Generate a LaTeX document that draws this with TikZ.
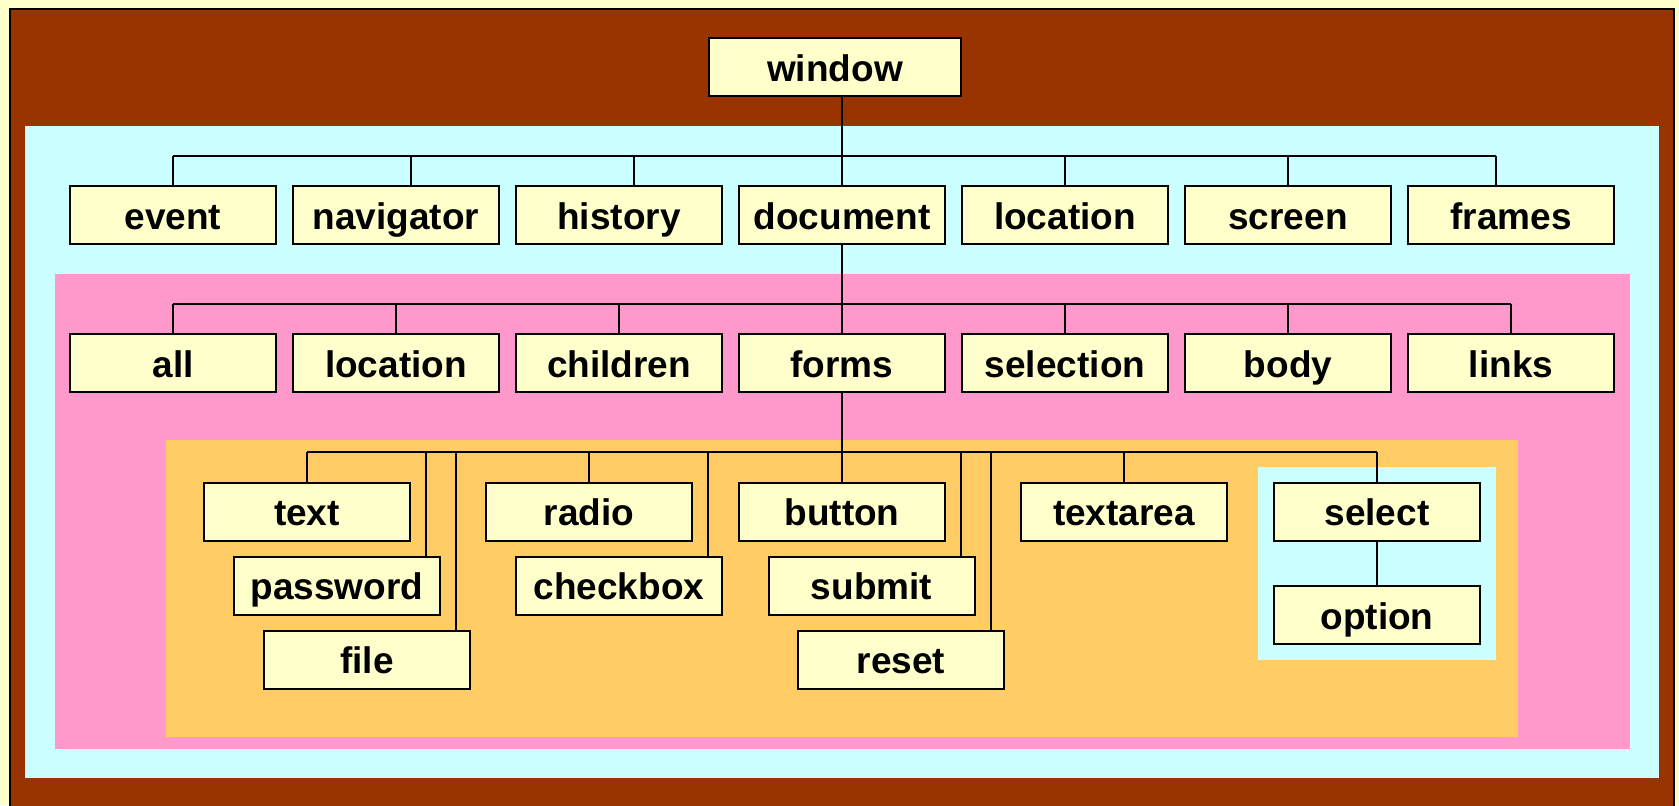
\documentclass[tikz,border=0pt]{standalone}
\usepackage{fontspec}
\setmainfont{Liberation Sans}
\usetikzlibrary{calc}
\definecolor{paper}{HTML}{FFFFCC}
\definecolor{boxfill}{HTML}{FFFFCC}
\definecolor{brownbg}{HTML}{993300}
\definecolor{cyanbg}{HTML}{CCFFFF}
\definecolor{pinkbg}{HTML}{FF99CC}
\definecolor{orangebg}{HTML}{FFCC66}
\begin{document}
\begin{tikzpicture}[x=0.5pt,y=-0.5pt,
  obj/.style={draw=black, line width=1pt, fill=boxfill, minimum width=103pt,
    minimum height=29pt, inner sep=0pt, text height=14pt, text depth=0pt,
    font=\fontsize{18.5}{22}\selectfont\bfseries},
  link/.style={draw=black, line width=1pt}]
\useasboundingbox (0,0) rectangle (1679,805);
\fill[paper] (0,0) rectangle (1679,805);

% nested coloured panels
\begin{scope}
  \clip (0,0) rectangle (1679,805);
  \filldraw[fill=brownbg, draw=black, line width=1pt] (10,9) rectangle (1674,840);
\end{scope}
\fill[cyanbg] (25,126) rectangle (1659,778);
\fill[pinkbg] (55,274) rectangle (1630,749);
\fill[orangebg] (166,440) rectangle (1518,737);
\fill[cyanbg] (1258,467) rectangle (1496,660);

% objects
\node[obj, minimum width=126pt] (window) at (835,67) {window};

\node[obj] (event)     at (173,215)  {event};
\node[obj] (navigator) at (396,215)  {navigator};
\node[obj] (history)   at (619,215)  {history};
\node[obj] (document)  at (842,215)  {document};
\node[obj] (location)  at (1065,215) {location};
\node[obj] (screen)    at (1288,215) {screen};
\node[obj] (frames)    at (1511,215) {frames};

\node[obj] (all)       at (173,363)  {all};
\node[obj] (dloc)      at (396,363)  {location};
\node[obj] (children)  at (619,363)  {children};
\node[obj] (forms)     at (842,363)  {forms};
\node[obj] (selection) at (1065,363) {selection};
\node[obj] (body)      at (1288,363) {body};
\node[obj] (links)     at (1511,363) {links};

\node[obj] (text)      at (307,511.5)  {text};
\node[obj] (password)  at (337,585.5)  {password};
\node[obj] (file)      at (367,659.5)  {file};
\node[obj] (radio)     at (589,511.5)  {radio};
\node[obj] (checkbox)  at (619,585.5)  {checkbox};
\node[obj] (button)    at (842,511.5)  {button};
\node[obj] (submit)    at (871.5,585.5){submit};
\node[obj] (reset)     at (901,659.5)  {reset};
\node[obj] (textarea)  at (1124,511.5) {textarea};
\node[obj] (select)    at (1377,511.5) {select};
\node[obj] (option)    at (1377,615)   {option};

% bus levels
\coordinate (bus1) at (0,156);
\coordinate (bus2) at (0,304);
\coordinate (bus3) at (0,452);

% window level
\draw[link] (document.north) -- (document.north |- window.south);
\foreach \n/\dx in {event/0, navigator/15, history/15, location/0, screen/0, frames/-15}{
  \coordinate (\n-top) at ($(\n.north)+(\dx,0)$);
  \draw[link] (\n-top) -- (\n-top |- bus1);
}
\draw[link] (event-top |- bus1) -- (frames-top |- bus1);

% document level
\draw[link] (document.south) -- (forms.north);
\foreach \n in {all, dloc, children, selection, body, links}{
  \draw[link] (\n.north) -- (\n.north |- bus2);
}
\draw[link] (all.north |- bus2) -- (links.north |- bus2);

% forms level
\draw[link] (forms.south) -- (button.north);
\foreach \n in {text, radio, textarea, select}{
  \draw[link] (\n.north) -- (\n.north |- bus3);
}
\foreach \n/\dx in {password/-15, file/-15, checkbox/-15, submit/-15, reset/-14}{
  \coordinate (\n-top) at ($(\n.north east)+(\dx,0)$);
  \draw[link] (\n-top) -- (\n-top |- bus3);
}
\draw[link] (text.north |- bus3) -- (select.north |- bus3);

% select level
\draw[link] (select.south) -- (option.north);
\end{tikzpicture}
\end{document}
